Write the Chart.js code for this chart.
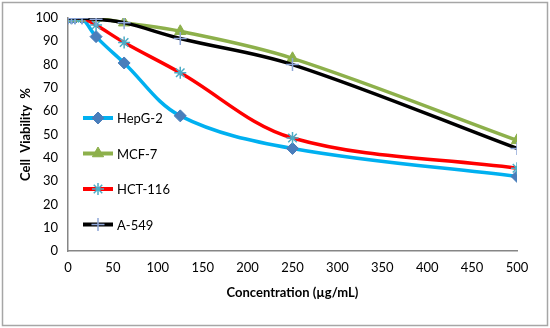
<!DOCTYPE html>
<html>
<head>
<meta charset="utf-8">
<script src="https://cdn.jsdelivr.net/npm/chart.js@4.4.1/dist/chart.umd.min.js"></script>
<style>
  html, body { margin: 0; padding: 0; background: #fff; }
  #wrap { width: 550px; height: 328px; }
</style>
</head>
<body>
<div id="wrap"><canvas id="chart" width="550" height="328"></canvas></div>
<script>
const concentrations = [0, 3.9, 7.8, 15.6, 31.25, 62.5, 125, 250, 500];
const hepg2 = [100, 100, 100, 100, 92, 80.7, 58, 44, 32];
const mcf7 = [100, 100, 100, 100, 100, 98, 94.3, 82.7, 47.5];
const hct116 = [100, 100, 100, 100, 97, 89.5, 76.5, 48.5, 35.5];
const a549 = [100, 100, 100, 100, 99.5, 98, 91.2, 80, 44];
const seriesNames = ["HepG-2", "MCF-7", "HCT-116", "A-549"];

const fontFamily = "Lato, 'Open Sans', sans-serif";

function toPoints(values) {
    return concentrations.map((c, i) => ({ x: c, y: values[i] }));
}

// grey frame round the whole picture
const framePlugin = {
    id: "frame",
    beforeDraw(chart) {
        const ctx = chart.ctx;
        ctx.save();
        ctx.fillStyle = "#fff";
        ctx.fillRect(0, 0, chart.width, chart.height);
        ctx.strokeStyle = "#a6a6a6";
        ctx.lineWidth = 1.5;
        ctx.strokeRect(2.5, 2.5, chart.width - 5, chart.height - 5);
        ctx.restore();
    }
};

// legend sits inside the plot, stacked on the left
const insideLegend = {
    id: "insideLegend",
    afterDraw(chart) {
        const ctx = chart.ctx;
        const area = chart.chartArea;
        const x0 = area.left + 15;
        let y = area.top + 100;
        ctx.save();
        chart.data.datasets.forEach((ds) => {
            ctx.strokeStyle = ds.borderColor;
            ctx.lineWidth = 4;
            ctx.beginPath();
            ctx.moveTo(x0, y);
            ctx.lineTo(x0 + 30, y);
            ctx.stroke();
            // drawPoint takes its colours from the context
            ctx.fillStyle = ds.pointBackgroundColor;
            ctx.strokeStyle = ds.pointBorderColor;
            ctx.lineWidth = ds.pointBorderWidth;
            Chart.helpers.drawPoint(ctx, {
                pointStyle: ds.pointStyle,
                radius: ds.pointRadius,
                borderWidth: ds.pointBorderWidth,
                rotation: 0
            }, x0 + 15, y);
            ctx.fillStyle = "#000";
            ctx.font = "13px " + fontFamily;
            ctx.textBaseline = "middle";
            ctx.textAlign = "left";
            ctx.fillText(ds.label, x0 + 34, y + 1);
            y += 35.5;
        });
        ctx.restore();
    }
};

function makeSet(label, values, lineColor, markerColor, style, radius, order) {
    return {
        label: label,
        data: toPoints(values),
        borderColor: lineColor,
        backgroundColor: markerColor,
        borderWidth: 3.5,
        tension: 0.35,
        pointStyle: style,
        pointRadius: radius,
        pointBackgroundColor: markerColor,
        pointBorderColor: markerColor,
        pointBorderWidth: style === "star" || style === "cross" ? 1.5 : 1,
        order: order
    };
}

const datasets = [
    makeSet(seriesNames[0], hepg2, "#00b0f0", "#4a7ebb", "rectRot", 6, 3),
    makeSet(seriesNames[1], mcf7, "#8db04b", "#8db04b", "triangle", 6.5, 2),
    makeSet(seriesNames[2], hct116, "#ff0000", "#4bacc6", "star", 6, 1),
    makeSet(seriesNames[3], a549, "#000000", "#8ea6d8", "cross", 6.5, 0)
];

new Chart(document.getElementById("chart"), {
    type: "line",
    data: { datasets: datasets },
    plugins: [framePlugin, insideLegend],
    options: {
        responsive: false,
        animation: false,
        layout: { padding: { left: 0, right: 33, top: 18, bottom: 0 } },
        plugins: {
            legend: { display: false },
            tooltip: { enabled: false }
        },
        scales: {
            x: {
                type: "linear",
                min: 0,
                max: 500,
                ticks: {
                    stepSize: 50,
                    padding: 9,
                    color: "#000",
                    font: { family: fontFamily, size: 13 }
                },
                grid: { display: false, drawTicks: false },
                border: { display: true, color: "#868686", width: 1.5 },
                title: {
                    display: true,
                    text: "Concentration (µg/mL)",
                    color: "#000",
                    font: { family: fontFamily, size: 13, weight: "bold" },
                    padding: { top: 0, bottom: 27 }
                },
                afterFit(scale) { scale.height = 77; }
            },
            y: {
                min: 0,
                max: 100,
                ticks: {
                    stepSize: 10,
                    padding: 10,
                    color: "#000",
                    font: { family: fontFamily, size: 13 }
                },
                grid: { display: false, drawTicks: false },
                border: { display: true, color: "#868686", width: 1.5 },
                title: {
                    display: true,
                    text: "Cell  Viability  %",
                    color: "#000",
                    font: { family: fontFamily, size: 13, weight: "bold" },
                    padding: { top: 18 }
                },
                afterFit(scale) { scale.width = 68; }
            }
        }
    }
});
</script>
</body>
</html>
